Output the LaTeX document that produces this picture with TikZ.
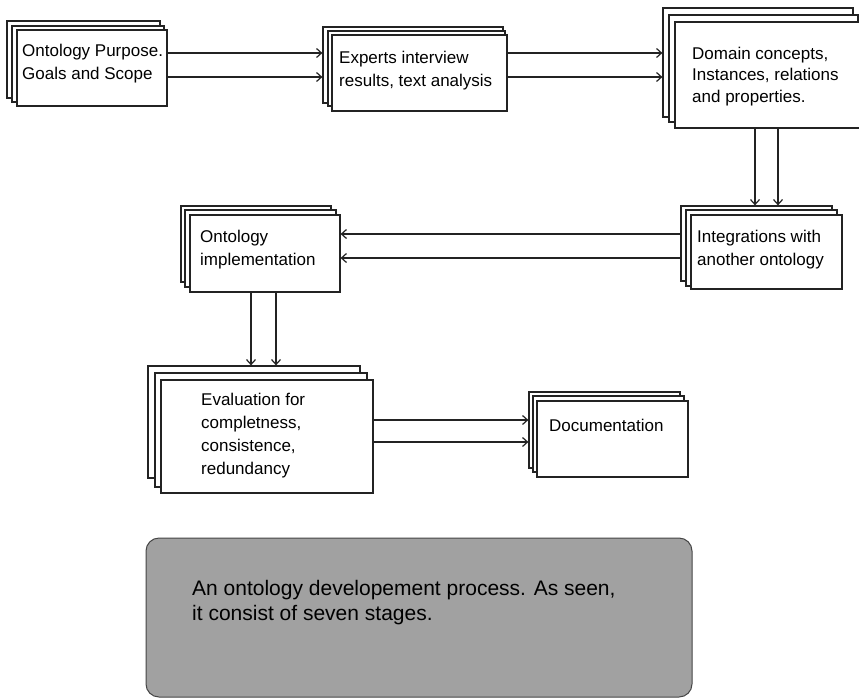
\documentclass[tikz,border=0pt]{standalone}
\usepackage{fontspec}
\setmainfont{Liberation Sans}
\usetikzlibrary{fit,arrows.meta}
\definecolor{edge}{RGB}{35,35,35}
\definecolor{capfill}{RGB}{161,161,161}
\definecolor{capedge}{RGB}{70,70,70}
\begin{document}
\begin{tikzpicture}[x=1pt,y=-1pt,
  sheet/.style={draw=edge, line width=1.2pt, fill=white, inner sep=0pt, rectangle},
  lbl/.style={anchor=west, align=left, inner sep=0pt, font=\fontsize{17}{23}\selectfont, text=black},
  arr/.style={draw=edge, line width=1.2pt, -{Straight Barb[length=5pt,width=9pt]}},
  capbox/.style={draw=capedge, line width=1pt, fill=capfill, rounded corners=13pt, inner sep=0pt},
]
\clip (0,0) rectangle (859,699);
\fill[white] (0,0) rectangle (859,699);

% Stage 1
\node[sheet, fit={(7,21)(160,98)}] (b1c) {};
\node[sheet, fit={(12,26)(164,102)}] (b1b) {};
\node[sheet, fit={(17,30)(167,106)}] (b1) {};
\node[lbl] (t1) at (22,63.5) {Ontology Purpose.\\Goals and Scope};

% Stage 2
\node[sheet, fit={(323,27)(503,103)}] (b2c) {};
\node[sheet, fit={(328,31)(505,106)}] (b2b) {};
\node[sheet, fit={(332,35)(507,111)}] (b2) {};
\node[lbl] (t2) at (339,70.5) {Experts interview\\results, text analysis};

% Stage 3
\node[sheet, fit={(663,8)(853,117)}] (b3c) {};
\node[sheet, fit={(669,15)(858,122)}] (b3b) {};
\node[sheet, fit={(675,22)(868,128)}] (b3) {};
\node[lbl, font=\fontsize{17}{21.5}\selectfont] (t3) at (692,76.5) {Domain concepts,\\Instances, relations\\and properties.};

% Stage 4
\node[sheet, fit={(681,206)(832,281)}] (b4c) {};
\node[sheet, fit={(686,210)(837,286)}] (b4b) {};
\node[sheet, fit={(691,215)(842,289)}] (b4) {};
\node[lbl] (t4) at (697,250) {Integrations with\\another ontology};

% Stage 5
\node[sheet, fit={(181,206)(331,282)}] (b5c) {};
\node[sheet, fit={(185,210)(336,287)}] (b5b) {};
\node[sheet, fit={(190,215)(340,292)}] (b5) {};
\node[lbl] (t5) at (200,250) {Ontology\\implementation};

% Stage 6
\node[sheet, fit={(148,366)(360,478)}] (b6c) {};
\node[sheet, fit={(155,373)(367,487)}] (b6b) {};
\node[sheet, fit={(161,380)(373,493)}] (b6) {};
\node[lbl] (t6) at (201,435.5) {Evaluation for\\completness,\\consistence,\\redundancy};

% Stage 7
\node[sheet, fit={(529,392)(680,468)}] (b7c) {};
\node[sheet, fit={(533,396)(684,472)}] (b7b) {};
\node[sheet, fit={(537,401)(688,477)}] (b7) {};
\node[lbl] (t7) at (549,425) {Documentation};

% Connectors
\draw[arr] (b1.east |- 0,53) -- (b2c.west |- 0,53);
\draw[arr] (b1.east |- 0,77) -- (b2c.west |- 0,77);
\draw[arr] (b2.east |- 0,53) -- (b3c.west |- 0,53);
\draw[arr] (b2.east |- 0,77) -- (b3c.west |- 0,77);
\draw[arr] (b3.south -| 755,0) -- (b4c.north -| 755,0);
\draw[arr] (b3.south -| 778,0) -- (b4c.north -| 778,0);
\draw[arr] (b4c.west |- 0,234) -- (b5.east |- 0,234);
\draw[arr] (b4c.west |- 0,258) -- (b5.east |- 0,258);
\draw[arr] (b5.south -| 251,0) -- (b6c.north -| 251,0);
\draw[arr] (b5.south -| 276,0) -- (b6c.north -| 276,0);
\draw[arr] (b6.east |- 0,420) -- (b7c.west |- 0,420);
\draw[arr] (b6.east |- 0,442) -- (b7c.west |- 0,442);

% Caption
\node[capbox, fit={(146,538)(692,697)}] (cap) {};
\node[lbl, font=\fontsize{21}{25}\selectfont] (capt) at (192,602.5) {An ontology developement process. As seen,\\it consist of seven stages.};
\end{tikzpicture}
\end{document}
